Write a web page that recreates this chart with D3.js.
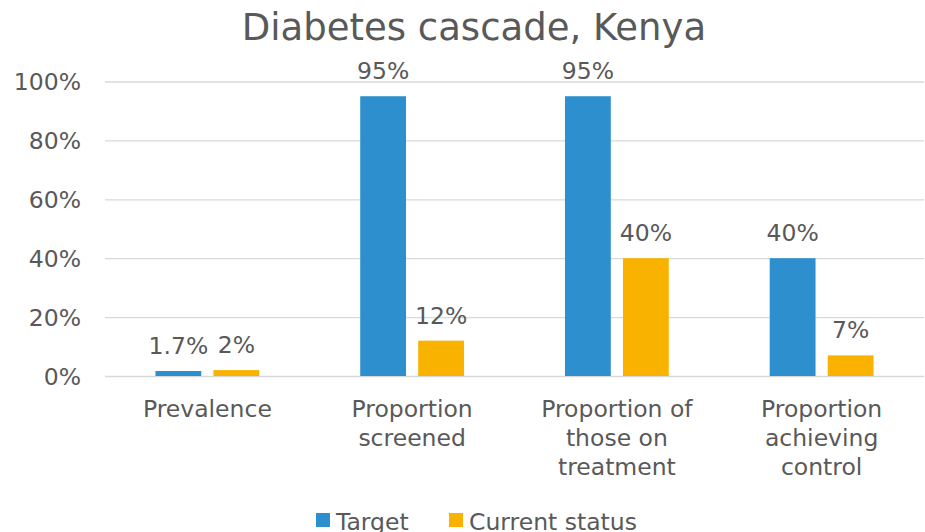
<!DOCTYPE html>
<html>
<head>
<meta charset="utf-8">
<script src="https://cdn.jsdelivr.net/npm/d3@7"></script>
<style>
  body { margin: 0; background: #fff; }
  text { font-family: "DejaVu Sans", Verdana, sans-serif; fill: #595959; }
</style>
</head>
<body>
<script>
var categories = [["Prevalence"], ["Proportion", "screened"], ["Proportion of", "those on", "treatment"], ["Proportion", "achieving", "control"]];
var seriesNames = ["Target", "Current status"];
var target = [1.7, 95, 95, 40];
var current = [2, 12, 40, 7];
var yTicks = [0, 20, 40, 60, 80, 100];

var width = 925, height = 532;
var margin = {top: 81.5, right: 1, bottom: 156, left: 105};
var colors = ["#2e8fcf", "#f9b200"];
var fs = "23.5px";

var svg = d3.select("body").append("svg")
  .attr("width", width)
  .attr("height", height);

var x = d3.scaleBand()
  .domain(d3.range(categories.length))
  .range([margin.left, width - margin.right])
  .paddingInner(0)
  .paddingOuter(0);

var xs = d3.scaleBand()
  .domain([0, 1])
  .range([0, x.bandwidth()])
  .paddingInner(0.21)
  .paddingOuter(0.87);

var y = d3.scaleLinear()
  .domain([0, 100])
  .range([height - margin.bottom, margin.top]);

// title
svg.append("text")
  .attr("x", 474)
  .attr("y", 40)
  .attr("text-anchor", "middle")
  .style("font-size", "37px")
  .text("Diabetes cascade, Kenya");

// grid + y axis
var yAxis = svg.append("g")
  .attr("transform", "translate(" + margin.left + ",0)")
  .call(d3.axisLeft(y).tickValues(yTicks).tickSize(-(width - margin.left - margin.right)).tickPadding(24)
    .tickFormat(function(d) { return d + "%"; }));
yAxis.select(".domain").remove();
yAxis.selectAll("line").attr("stroke", "#d9d9d9").attr("stroke-width", 1.3);
yAxis.selectAll("text").style("font-size", fs).attr("fill", "#595959").attr("dy", "0.36em");

var data = [target, current];
var labels = [["1.7%", "95%", "95%", "40%"], ["2%", "12%", "40%", "7%"]];

data.forEach(function(series, s) {
  var g = svg.append("g");
  g.selectAll("rect")
    .data(series)
    .enter().append("rect")
      .attr("x", function(d, i) { return x(i) + xs(s); })
      .attr("y", function(d) { return y(d); })
      .attr("width", xs.bandwidth())
      .attr("height", function(d) { return y(0) - y(d); })
      .attr("fill", colors[s]);
  g.selectAll("text")
    .data(series)
    .enter().append("text")
      .attr("x", function(d, i) { return x(i) + xs(s) + xs.bandwidth() / 2; })
      .attr("y", function(d) { return y(d) - 17; })
      .attr("text-anchor", "middle")
      .style("font-size", fs)
      .attr("fill", "#404040")
      .text(function(d, i) { return labels[s][i]; });
});

// category labels
var cat = svg.append("g").selectAll("text")
  .data(categories)
  .enter().append("text")
    .attr("text-anchor", "middle")
    .style("font-size", fs);
cat.each(function(lines, i) {
  var t = d3.select(this);
  lines.forEach(function(l, k) {
    t.append("tspan")
      .attr("x", x(i) + x.bandwidth() / 2)
      .attr("y", 416.5 + k * 29)
      .text(l);
  });
});

// legend
var legendX = [316, 449];
var leg = svg.append("g").selectAll("g")
  .data(seriesNames)
  .enter().append("g")
    .attr("transform", function(d, i) { return "translate(" + legendX[i] + ",513)"; });
leg.append("rect")
  .attr("width", 14).attr("height", 14)
  .attr("fill", function(d, i) { return colors[i]; });
leg.append("text")
  .attr("x", 20).attr("y", 14)
  .attr("dy", "0.12em")
  .style("font-size", fs)
  .text(function(d) { return d; });
</script>
</body>
</html>
